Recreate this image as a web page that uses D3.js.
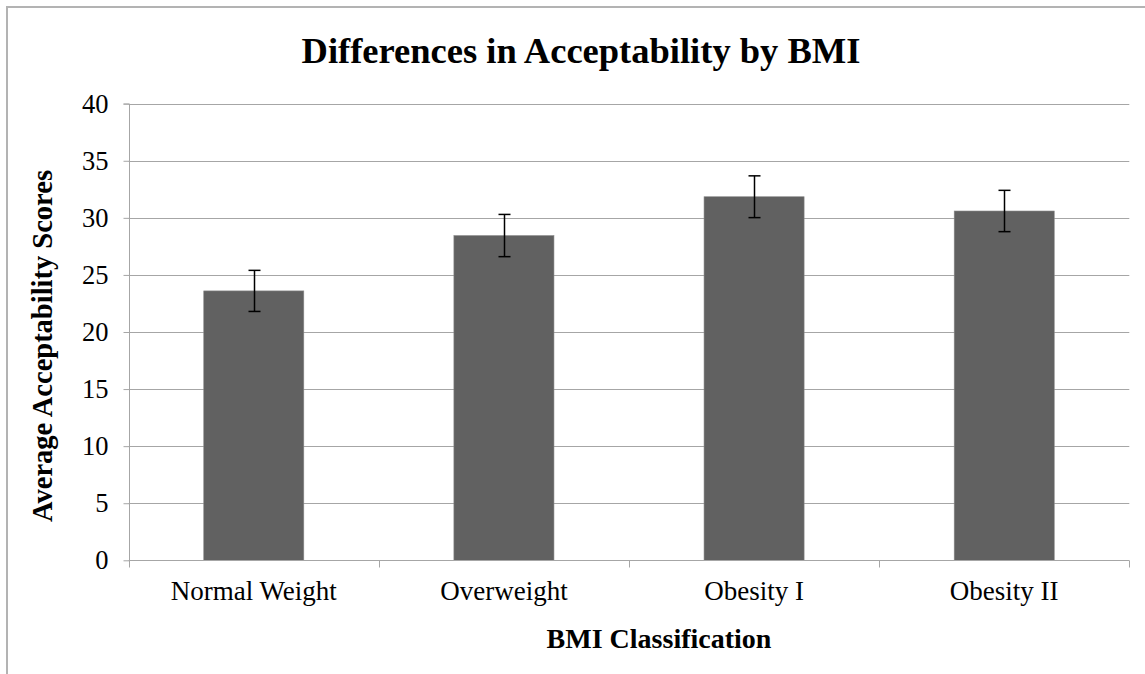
<!DOCTYPE html>
<html>
<head>
<meta charset="utf-8">
<script src="https://cdn.jsdelivr.net/npm/d3@7"></script>
<style>
  html, body { margin: 0; padding: 0; background: #fff; }
  svg { display: block; }
  text { font-family: "Liberation Serif", "Times New Roman", serif; fill: #000; }
</style>
</head>
<body>
<svg id="chart" width="1145" height="674"></svg>
<script>
const categories = ["Normal Weight", "Overweight", "Obesity I", "Obesity II"];
const means = [23.6, 28.45, 31.85, 30.6];
const errors = [1.8, 1.85, 1.83, 1.81];
const yTicks = [0, 5, 10, 15, 20, 25, 30, 35, 40];
const titleText = "Differences in Acceptability by BMI";
const xTitle = "BMI Classification";
const yTitle = "Average Acceptability Scores";

const svg = d3.select("#chart");
const plot = { left: 128.7, right: 1129.3, top: 103.7, bottom: 560.3 };
const gridColor = "#a6a6a6";

// outer chart border (only top and left visible in frame)
svg.append("rect")
  .attr("x", 7).attr("y", 7).attr("width", 1400).attr("height", 1000)
  .attr("fill", "none").attr("stroke", "#b3b3b3").attr("stroke-width", 2);

const y = d3.scaleLinear().domain([0, 40]).range([plot.bottom, plot.top]);
const xOuter = d3.scaleBand().domain(categories).range([plot.left, plot.right]).padding(0);
const xBar = d3.scaleBand().domain(categories).range([plot.left, plot.right])
  .paddingInner(0.6).paddingOuter(0.3);

// gridlines
svg.append("g").selectAll("line").data(yTicks.filter(d => d > 0)).join("line")
  .attr("x1", plot.left).attr("x2", plot.right)
  .attr("y1", d => Math.round(y(d)) + 0.5).attr("y2", d => Math.round(y(d)) + 0.5)
  .attr("stroke", gridColor).attr("stroke-width", 1);

// y axis
const yAxis = d3.axisLeft(y).tickValues(yTicks).tickSize(6).tickPadding(15).tickFormat(d3.format("d"));
const yg = svg.append("g").attr("transform", `translate(${Math.round(plot.left) + 0.5},0)`).call(yAxis);
yg.select(".domain").attr("stroke", gridColor).attr("d", `M-6,${Math.round(plot.top)}H0V${Math.round(plot.bottom)+0.5}`);
yg.selectAll(".tick line").attr("stroke", gridColor);
yg.selectAll(".tick text").attr("font-size", 26.5).attr("font-family", "Liberation Serif").attr("fill", "#000");

// bars
svg.append("g").selectAll("rect").data(categories).join("rect")
  .attr("x", d => xBar(d))
  .attr("y", (d, i) => y(means[i]))
  .attr("width", xBar.bandwidth())
  .attr("height", (d, i) => y(0) - y(means[i]))
  .attr("fill", "#616161")
  .attr("stroke", "#8a8a8a").attr("stroke-width", 0.6);

// x axis
const xAxisY = Math.round(plot.bottom) + 0.5;
svg.append("line").attr("x1", plot.left).attr("x2", plot.right)
  .attr("y1", xAxisY).attr("y2", xAxisY).attr("stroke", gridColor);
const boundaries = categories.map(c => xOuter(c)).concat([plot.right]);
svg.append("g").selectAll("line").data(boundaries).join("line")
  .attr("x1", d => Math.round(d) + 0.5).attr("x2", d => Math.round(d) + 0.5)
  .attr("y1", xAxisY).attr("y2", xAxisY + 7)
  .attr("stroke", gridColor);
svg.append("g").selectAll("text").data(categories).join("text")
  .attr("x", d => xOuter(d) + xOuter.bandwidth() / 2)
  .attr("y", 600)
  .attr("text-anchor", "middle")
  .attr("font-size", 27)
  .text(d => d);

// error bars
const eg = svg.append("g").attr("stroke", "#000").attr("stroke-width", 1.5);
categories.forEach((c, i) => {
  const cx = Math.round(xBar(c) + xBar.bandwidth() / 2) + 0.5;
  const yt = y(means[i] + errors[i]), yb = y(means[i] - errors[i]);
  eg.append("line").attr("x1", cx).attr("x2", cx).attr("y1", yt).attr("y2", yb);
  eg.append("line").attr("x1", cx - 6).attr("x2", cx + 6).attr("y1", yt).attr("y2", yt);
  eg.append("line").attr("x1", cx - 6).attr("x2", cx + 6).attr("y1", yb).attr("y2", yb);
});

// titles
svg.append("text").attr("x", 581).attr("y", 63).attr("text-anchor", "middle")
  .attr("font-size", 36.5).attr("font-weight", "bold").text(titleText);
svg.append("text").attr("x", 659).attr("y", 648).attr("text-anchor", "middle")
  .attr("font-size", 28).attr("font-weight", "bold").text(xTitle);
svg.append("text").attr("transform", "translate(52,346) rotate(-90)")
  .attr("text-anchor", "middle")
  .attr("font-size", 28.5).attr("font-weight", "bold").text(yTitle);
</script>
</body>
</html>
